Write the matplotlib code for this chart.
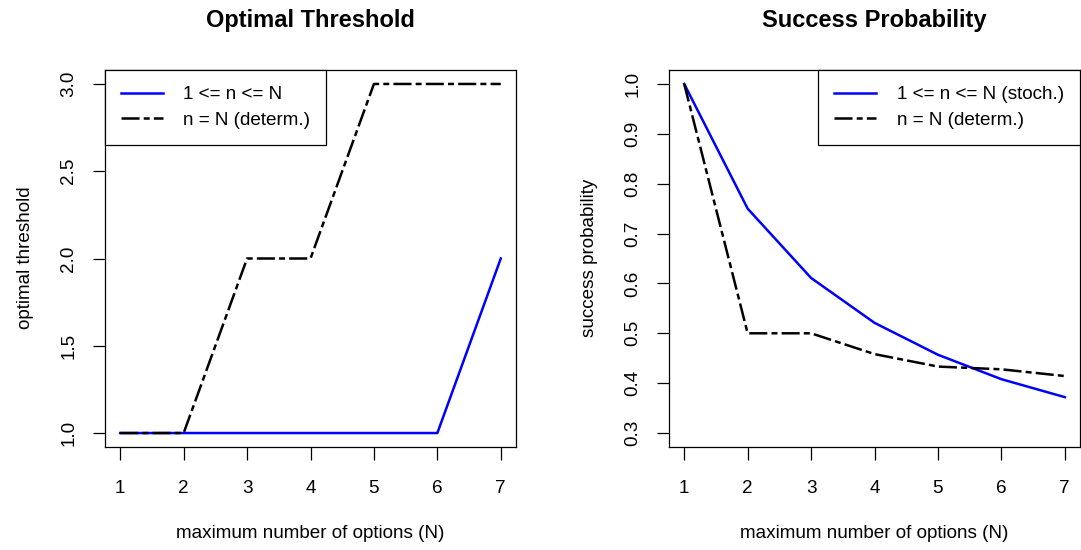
import matplotlib
matplotlib.use('Agg')
import matplotlib.pyplot as plt

plt.rcParams['font.family'] = ['Liberation Sans', 'DejaVu Sans']
plt.rcParams['lines.scale_dashes'] = False

# data
N = [1, 2, 3, 4, 5, 6, 7]
thresh_stoch = [1, 1, 1, 1, 1, 1, 2]
thresh_determ = [1, 1, 2, 2, 3, 3, 3]
prob_stoch = [1.0, 0.75, 0.611, 0.521, 0.457, 0.408, 0.372]
prob_determ = [1.0, 0.5, 0.5, 0.4583, 0.4333, 0.4278, 0.4143]

W, H = 1081, 550
fig = plt.figure(figsize=(W / 100, H / 100), dpi=100)

dotdash = (0, (13, 3, 4.3, 3))
fs = 13.6

def setup(ax, ylim, yticks, yfmt):
    ax.set_xlim(0.76, 7.24)
    ax.set_ylim(*ylim)
    ax.set_xticks(N)
    ax.set_yticks(yticks)
    ax.set_yticklabels([yfmt % v for v in yticks], rotation=90, va='center')
    ax.tick_params(axis='both', direction='out', length=9, width=0.9,
                   labelsize=fs)
    ax.tick_params(axis='x', pad=15)
    ax.tick_params(axis='y', pad=11)
    for s in ax.spines.values():
        s.set_linewidth(0.9)

def legend(ax, loc):
    leg = ax.legend(loc=loc, fontsize=fs, borderaxespad=0,
                    fancybox=False, edgecolor='black', framealpha=1,
                    handlelength=2.2, handletextpad=1.1, labelspacing=0.45,
                    borderpad=0.85)
    leg.get_frame().set_linewidth(0.9)

# left panel
ax1 = fig.add_axes([105 / W, 1 - 447 / H, 411 / W, 377 / H])
ax1.plot(N, thresh_stoch, color='#0000ff', lw=1.8, label='1 <= n <= N')
ax1.plot(N, thresh_determ, color='black', lw=1.8, linestyle=dotdash,
         label='n = N (determ.)')
setup(ax1, (0.92, 3.08), [1.0, 1.5, 2.0, 2.5, 3.0], '%.1f')
legend(ax1, 'upper left')

# right panel
ax2 = fig.add_axes([669 / W, 1 - 447 / H, 411 / W, 377 / H])
ax2.plot(N, prob_stoch, color='#0000ff', lw=1.8,
         label='1 <= n <= N (stoch.)')
ax2.plot(N, prob_determ, color='black', lw=1.8, linestyle=dotdash,
         label='n = N (determ.)')
setup(ax2, (0.272, 1.028), [0.3, 0.4, 0.5, 0.6, 0.7, 0.8, 0.9, 1.0], '%.1f')
legend(ax2, 'upper right')

# titles and axis labels
fig.text(310 / W, 1 - 20 / H, 'Optimal Threshold', ha='center', va='center',
         fontsize=17, fontweight='bold')
fig.text(874 / W, 1 - 20 / H, 'Success Probability', ha='center', va='center',
         fontsize=17, fontweight='bold')
fig.text(310 / W, 1 - 534 / H, 'maximum number of options (N)', ha='center',
         va='center', fontsize=fs)
fig.text(874 / W, 1 - 534 / H, 'maximum number of options (N)', ha='center',
         va='center', fontsize=fs)
fig.text(26 / W, 1 - 258 / H, 'optimal threshold', ha='center', va='center',
         rotation=90, fontsize=fs)
fig.text(590 / W, 1 - 258 / H, 'success probability', ha='center',
         va='center', rotation=90, fontsize=fs)

fig.savefig('out.png', dpi=100)
